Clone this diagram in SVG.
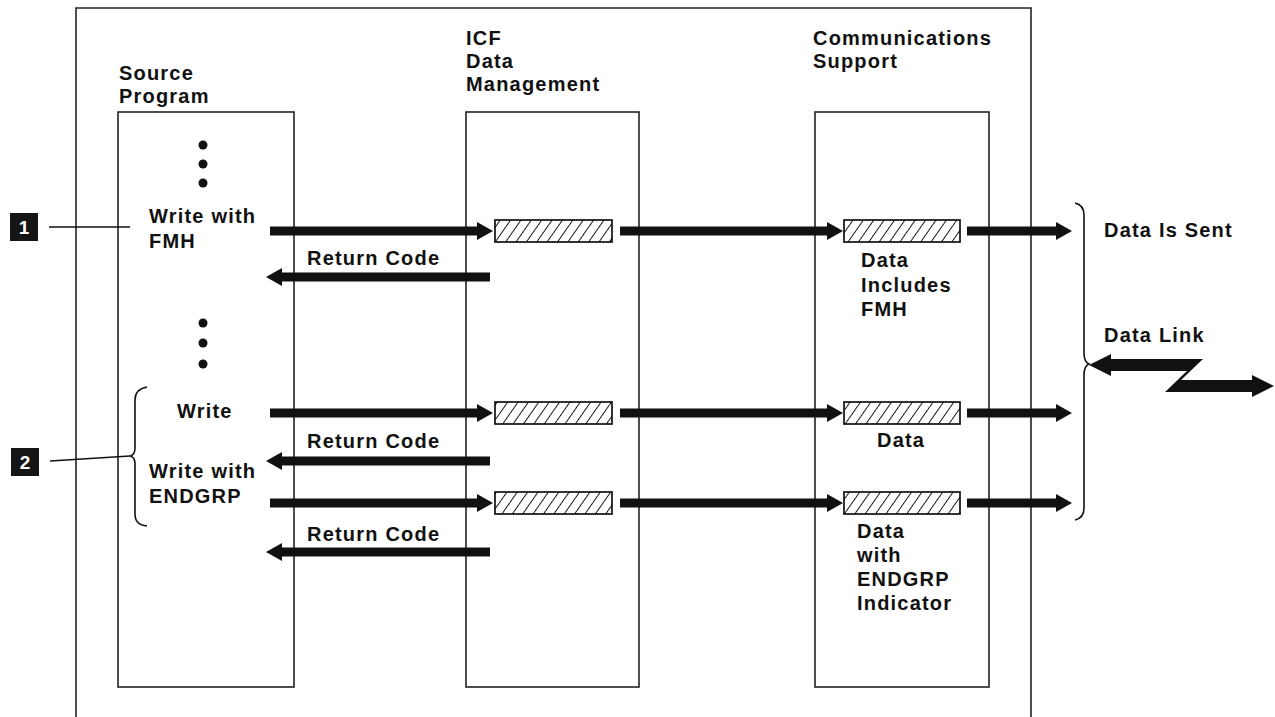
<svg xmlns="http://www.w3.org/2000/svg" width="1275" height="717" viewBox="0 0 1275 717">
<style>
text{font-family:"Liberation Sans",Arial,Helvetica,sans-serif;font-size:20px;font-weight:bold;letter-spacing:1.2px;fill:#111}
.box{fill:none;stroke:#222;stroke-width:1.6}
.frame{fill:none;stroke:#222;stroke-width:1.6}
.hatch{fill:url(#hatch);stroke:#111;stroke-width:1.7}
.arr{fill:#111}
.thin{fill:none;stroke:#111;stroke-width:1.6}
.mk{fill:#151515}
.mkt{fill:#fff;font-size:19px;letter-spacing:0}
</style>
<defs>
<pattern id="hatch" width="8.5" height="8.5" patternUnits="userSpaceOnUse" patternTransform="rotate(35)">
<rect width="8.5" height="8.5" fill="#fff"/>
<line x1="0" y1="-1" x2="0" y2="9.5" stroke="#111" stroke-width="1.9"/>
</pattern>
</defs>
<rect width="1275" height="717" fill="#fff"/>
<path class="frame" d="M76,717 L76,8 L1031,8 L1031,717"/>

<g id="source-program">
<rect class="box" x="118" y="112" width="176" height="575"/>
<text x="119" y="80">Source</text>
<text x="119" y="103">Program</text>
<circle cx="203" cy="145" r="4.5" fill="#111"/>
<circle cx="203" cy="164" r="4.5" fill="#111"/>
<circle cx="203" cy="183" r="4.5" fill="#111"/>
<text x="149" y="223">Write with</text>
<text x="149" y="248">FMH</text>
<circle cx="203" cy="323" r="4.5" fill="#111"/>
<circle cx="203" cy="343" r="4.5" fill="#111"/>
<circle cx="203" cy="364" r="4.5" fill="#111"/>
<text x="177" y="418">Write</text>
<text x="149" y="478">Write with</text>
<text x="149" y="503">ENDGRP</text>
</g>

<g id="icf-data-management">
<rect class="box" x="466" y="112" width="173" height="575"/>
<text x="466" y="45">ICF</text>
<text x="466" y="68">Data</text>
<text x="466" y="91">Management</text>
<rect class="hatch" x="495" y="220" width="117" height="22"/>
<rect class="hatch" x="495" y="402" width="117" height="22"/>
<rect class="hatch" x="495" y="492" width="117" height="22"/>
</g>

<g id="communications-support">
<rect class="box" x="815" y="112" width="174" height="575"/>
<text x="813" y="45">Communications</text>
<text x="813" y="68">Support</text>
<rect class="hatch" x="844" y="220" width="116" height="22"/>
<rect class="hatch" x="844" y="402" width="116" height="22"/>
<rect class="hatch" x="844" y="492" width="116" height="22"/>
<text x="861" y="267">Data</text>
<text x="861" y="292">Includes</text>
<text x="861" y="316">FMH</text>
<text x="877" y="447">Data</text>
<text x="857" y="538">Data</text>
<text x="857" y="562">with</text>
<text x="857" y="586">ENDGRP</text>
<text x="857" y="610">Indicator</text>
</g>

<g id="marker-1">
<rect class="mk" x="10" y="213" width="28" height="28"/>
<text class="mkt" x="24" y="234" text-anchor="middle">1</text>
</g>

<g id="marker-2">
<rect class="mk" x="11" y="448" width="28" height="28"/>
<text class="mkt" x="25" y="469" text-anchor="middle">2</text>
</g>

<g id="data-link">
<text x="1104" y="237">Data Is Sent</text>
<text x="1104" y="342">Data Link</text>
<polygon class="arr" points="1089,365 1111,354 1111,359 1203,359 1181,380 1252,380 1252,375 1274,386 1252,397 1252,392 1165,392 1187,371 1111,371 1111,376"/>
</g>

<g id="connectors">
<polygon class="arr" points="270,226.5 477,226.5 477,222 493,231 477,240 477,235.5 270,235.5"/>
<polygon class="arr" points="620,226.5 827,226.5 827,222 843,231 827,240 827,235.5 620,235.5"/>
<polygon class="arr" points="967,226.5 1056,226.5 1056,222 1072,231 1056,240 1056,235.5 967,235.5"/>
<text x="307" y="265">Return Code</text>
<polygon class="arr" points="490,272.5 282,272.5 282,268 266,277 282,286 282,281.5 490,281.5"/>
<polygon class="arr" points="270,408.5 477,408.5 477,404 493,413 477,422 477,417.5 270,417.5"/>
<polygon class="arr" points="620,408.5 827,408.5 827,404 843,413 827,422 827,417.5 620,417.5"/>
<polygon class="arr" points="967,408.5 1056,408.5 1056,404 1072,413 1056,422 1056,417.5 967,417.5"/>
<text x="307" y="448">Return Code</text>
<polygon class="arr" points="490,456.5 282,456.5 282,452 266,461 282,470 282,465.5 490,465.5"/>
<polygon class="arr" points="270,498.5 477,498.5 477,494 493,503 477,512 477,507.5 270,507.5"/>
<polygon class="arr" points="620,498.5 827,498.5 827,494 843,503 827,512 827,507.5 620,507.5"/>
<polygon class="arr" points="967,498.5 1056,498.5 1056,494 1072,503 1056,512 1056,507.5 967,507.5"/>
<text x="307" y="541">Return Code</text>
<polygon class="arr" points="490,547.5 282,547.5 282,543 266,552 282,561 282,556.5 490,556.5"/>
<path class="thin" d="M1075,203 Q1084,205 1084,215 L1084,353 Q1084,362 1089,364 Q1084,366 1084,375 L1084,508 Q1084,518 1075,520"/>
<path class="thin" d="M147,387 Q135,389 135,400 L135,448 Q135,455 130,456 Q135,457 135,464 L135,514 Q135,525 147,526"/>
<line class="thin" x1="49" y1="227" x2="130" y2="227"/>
<line class="thin" x1="50" y1="461" x2="130" y2="456"/>
</g>
</svg>
